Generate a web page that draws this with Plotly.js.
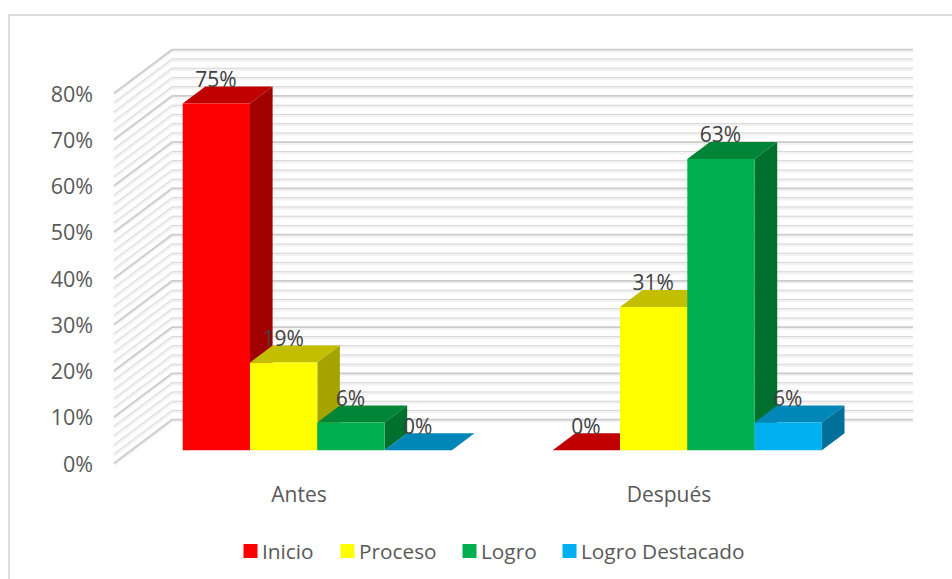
<!DOCTYPE html>
<html><head><meta charset="utf-8">
<script src="https://cdn.plot.ly/plotly-3.0.1.min.js"></script>
<style>html,body{margin:0;padding:0;background:#fff}#c{width:952px;height:579px}</style>
</head><body><div id="c"></div>
<script>
const categories = ['Antes', 'Después'];
const seriesNames = ['Inicio', 'Proceso', 'Logro', 'Logro Destacado'];
const inicio = [75, 0];
const proceso = [19, 31];
const logro = [6, 63];
const logroDestacado = [0, 6];
const tickValues = [0, 10, 20, 30, 40, 50, 60, 70, 80];
const frontColors = ['#FF0000', '#FFFF00', '#00B050', '#00B0F0'];
const topColors = ['#C00000', '#C4BE00', '#008537', '#0087B8'];
const sideColors = ['#A00000', '#A5A300', '#00702F', '#006F9A'];
const legendLeft = [237, 334, 456, 556];
const series = [inicio, proceso, logro, logroDestacado];

// plot box in page pixels and scale of the axes
const W = 952, H = 579, L = 94, R = 930, T = 20, B = 480;
const pxX = 370, pxY = 4.625;
const barX0 = 317.3, barY0 = 450.3, wallX0 = 299, wallY0 = 464, wallLift = 0.8 / pxY;
const xRange = x0 => [(L - x0) / pxX, (R - x0) / pxX];
const yRange = y0 => [(y0 - B) / pxY, (y0 - T) / pxY];
const barW = 67.3 / pxX, depthX = 22.6 / pxX, depthY = 17 / pxY;
// wall frame
const wallFL = (114 - wallX0) / pxX, wallBL = (172 - wallX0) / pxX, wallBR = (913 - wallX0) / pxX, wallD = 43.5 / pxY;

const traces = [];
function wallTrace(levels, yoff, color, width) {
  const xs = [], ys = [];
  levels.forEach(v => {
    xs.push(wallFL, wallBL, wallBR, null);
    ys.push(v + wallLift - yoff, v + wallLift + wallD - yoff, v + wallLift + wallD - yoff, null);
  });
  traces.push({type: 'scatter', mode: 'lines', x: xs, y: ys, xaxis: 'x', yaxis: 'y', showlegend: false, hoverinfo: 'skip',
    line: {color: color, width: width}});
}
const minor = [], major = [];
for (let v = 0; v <= 80; v += 2) (v % 10 === 0 ? major : minor).push(v);
wallTrace(minor.concat(major), 1.4 / pxY, '#F3F3F3', 3);
wallTrace(minor, 0, '#D6D6D6', 1);
wallTrace(major, 0, '#CCCCCC', 1.8);

// tops and sides of the boxes, series after series, so that later ones hide earlier ones
categories.forEach((cat, c) => {
  series.forEach((vals, s) => {
    const left = c + (s - 2) * barW, right = left + barW, v = vals[c];
    traces.push({type: 'scatter', mode: 'lines', fill: 'toself', xaxis: 'x2', yaxis: 'y2', showlegend: false, hoverinfo: 'skip',
      x: [left, right, right + depthX, left + depthX, left],
      y: [v, v, v + depthY, v + depthY, v],
      fillcolor: topColors[s], line: {width: 0, color: topColors[s]}});
    if (v > 0) traces.push({type: 'scatter', mode: 'lines', fill: 'toself', xaxis: 'x2', yaxis: 'y2', showlegend: false, hoverinfo: 'skip',
      x: [right, right + depthX, right + depthX, right, right],
      y: [0, depthY, v + depthY, v, 0],
      fillcolor: sideColors[s], line: {width: 0, color: sideColors[s]}});
  });
});

// front faces
series.forEach((vals, s) => {
  traces.push({type: 'bar', name: seriesNames[s], x: [0, 1], y: vals, xaxis: 'x3', yaxis: 'y3', hoverinfo: 'skip',
    legend: s === 0 ? 'legend' : 'legend' + (s + 1),
    marker: {color: frontColors[s], line: {width: 0}}});
});
// data labels
series.forEach((vals, s) => {
  traces.push({type: 'scatter', mode: 'text', xaxis: 'x3', yaxis: 'y3', showlegend: false, hoverinfo: 'skip',
    x: categories.map((_, c) => c + (s - 1.5) * barW - 0.5 / pxX),
    y: vals.map(v => v + depthY - 1.25),
    text: vals.map(v => v + '%'), textposition: 'top center',
    textfont: {family: '"Open Sans", sans-serif', size: 21, color: '#404040'}});
});

const hidden = {visible: false, fixedrange: true};
const px = v => (v - L) / (R - L), py = v => (B - v) / (B - T);
const borderLine = {color: '#DDDDDD', width: 2};
const frameLines = [
  {type: 'line', xref: 'paper', yref: 'paper', layer: 'below', x0: px(9), x1: px(952), y0: py(15), y1: py(15), line: borderLine},
  {type: 'line', xref: 'paper', yref: 'paper', layer: 'below', x0: px(9), x1: px(9), y0: py(14), y1: py(579), line: borderLine}
];

const legendAt = left => ({orientation: 'h', x: left / W, xref: 'container', y: 1 - 551.5 / H, yref: 'container', yanchor: 'middle', xanchor: 'left', indentation: -15,
  font: {size: 20.8, color: '#595959'}, bgcolor: 'rgba(0,0,0,0)'});

const layout = {
  width: W, height: H, showlegend: true, paper_bgcolor: '#fff', plot_bgcolor: 'rgba(0,0,0,0)',
  margin: {l: L, r: W - R, t: T, b: H - B, pad: 0},
  font: {family: '"Open Sans", sans-serif', size: 20.5, color: '#595959'},
  barmode: 'group', bargap: 1 - 4 * barW, bargroupgap: 0,
  shapes: frameLines,
  xaxis: {range: xRange(wallX0), tickmode: 'array', tickvals: [0, 1], ticktext: categories, showgrid: false, zeroline: false, showline: false, ticks: '', fixedrange: true, ticklen: 0, tickfont: {size: 21, color: '#595959'}},
  yaxis: {range: yRange(wallY0), tickmode: 'array', tickvals: tickValues, ticktext: tickValues.map(v => v + '%'), showgrid: false, zeroline: false, showline: false, ticks: '', fixedrange: true, tickfont: {size: 21.5, color: '#595959'}},
  xaxis2: Object.assign({range: xRange(barX0), overlaying: 'x'}, hidden),
  yaxis2: Object.assign({range: yRange(barY0), overlaying: 'y'}, hidden),
  xaxis3: Object.assign({range: xRange(barX0), overlaying: 'x'}, hidden),
  yaxis3: Object.assign({range: yRange(barY0), overlaying: 'y'}, hidden),
  legend: legendAt(legendLeft[0]), legend2: legendAt(legendLeft[1]), legend3: legendAt(legendLeft[2]), legend4: legendAt(legendLeft[3])
};
Plotly.newPlot('c', traces, layout, {displayModeBar: false, staticPlot: true}).then(() => {
  // draw legend keys as in the source: slightly larger and close to their text
  document.querySelectorAll('.legendsymbols').forEach(g => g.setAttribute('transform', 'translate(8.5,0)'));
  document.querySelectorAll('.legendpoints path').forEach(p => {
    p.style.stroke = p.style.fill; p.style.strokeWidth = '2px'; p.style.strokeOpacity = 1;
  });
});
</script></body></html>
